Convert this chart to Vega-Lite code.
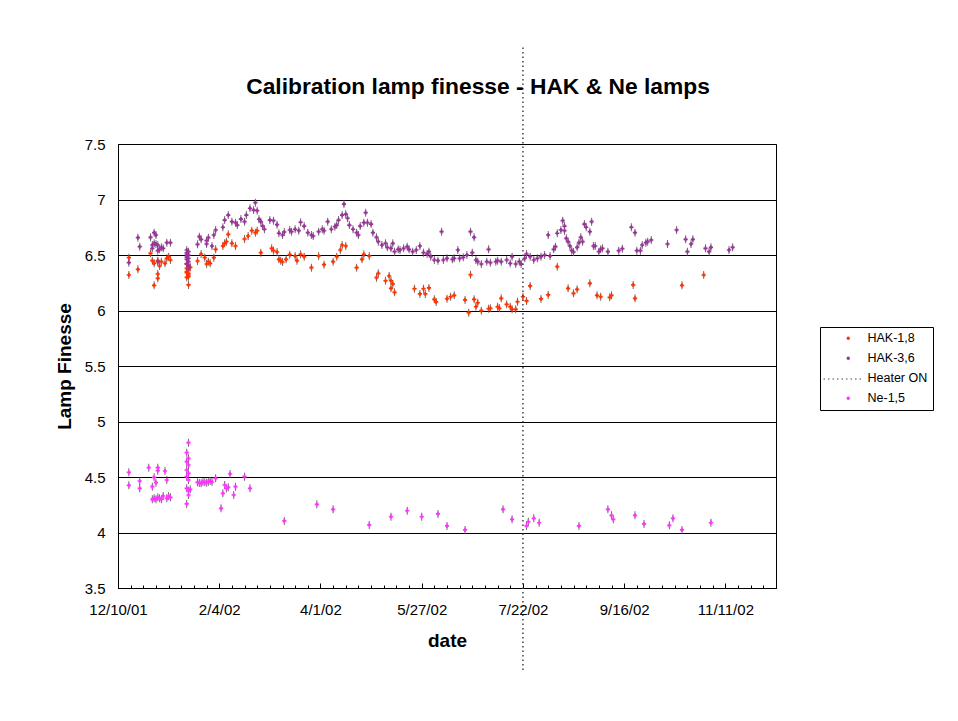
{
  "$schema": "https://vega.github.io/schema/vega-lite/v6.json",
  "autosize": "none",
  "width": 658,
  "height": 444,
  "padding": {"left": 118, "top": 144, "right": 182, "bottom": 133},
  "background": "white",
  "title": {"text": "Calibration lamp finesse - HAK & Ne lamps", "fontSize": 22.8, "fontWeight": "bold", "font": "Liberation Sans", "anchor": "middle", "dx": 31, "offset": -52, "color": "black"},
  "config": {
    "font": "Liberation Sans",
    "view": {"stroke": "black", "strokeWidth": 1},
    "axis": {"labelColor": "black", "titleColor": "black", "domainColor": "black", "tickColor": "black", "labelFontSize": 15, "titleFontSize": 19, "titleFontWeight": "bold"}
  },
  "datasets": {
    "pts": [
      {"series": "HAK-1,8", "date": "2001-12-16", "finesse": 6.476},
      {"series": "HAK-1,8", "date": "2001-12-16", "finesse": 6.320},
      {"series": "HAK-1,8", "date": "2001-12-21", "finesse": 6.371},
      {"series": "HAK-1,8", "date": "2001-12-28", "finesse": 6.515},
      {"series": "HAK-1,8", "date": "2001-12-29", "finesse": 6.449},
      {"series": "HAK-1,8", "date": "2001-12-30", "finesse": 6.425},
      {"series": "HAK-1,8", "date": "2001-12-30", "finesse": 6.227},
      {"series": "HAK-1,8", "date": "2002-01-01", "finesse": 6.449},
      {"series": "HAK-1,8", "date": "2002-01-02", "finesse": 6.401},
      {"series": "HAK-1,8", "date": "2002-01-01", "finesse": 6.329},
      {"series": "HAK-1,8", "date": "2002-01-01", "finesse": 6.290},
      {"series": "HAK-1,8", "date": "2002-01-03", "finesse": 6.440},
      {"series": "HAK-1,8", "date": "2002-01-05", "finesse": 6.425},
      {"series": "HAK-1,8", "date": "2002-01-06", "finesse": 6.470},
      {"series": "HAK-1,8", "date": "2002-01-07", "finesse": 6.485},
      {"series": "HAK-1,8", "date": "2002-01-08", "finesse": 6.455},
      {"series": "HAK-1,8", "date": "2002-01-17", "finesse": 6.380},
      {"series": "HAK-1,8", "date": "2002-01-17", "finesse": 6.350},
      {"series": "HAK-1,8", "date": "2002-01-18", "finesse": 6.320},
      {"series": "HAK-1,8", "date": "2002-01-18", "finesse": 6.410},
      {"series": "HAK-1,8", "date": "2002-01-18", "finesse": 6.365},
      {"series": "HAK-1,8", "date": "2002-01-17", "finesse": 6.299},
      {"series": "HAK-1,8", "date": "2002-01-18", "finesse": 6.230},
      {"series": "HAK-1,8", "date": "2002-01-19", "finesse": 6.389},
      {"series": "HAK-1,8", "date": "2002-01-17", "finesse": 6.340},
      {"series": "HAK-1,8", "date": "2002-01-18", "finesse": 6.335},
      {"series": "HAK-1,8", "date": "2002-01-17", "finesse": 6.420},
      {"series": "HAK-1,8", "date": "2002-01-18", "finesse": 6.305},
      {"series": "HAK-1,8", "date": "2002-01-23", "finesse": 6.446},
      {"series": "HAK-1,8", "date": "2002-01-25", "finesse": 6.509},
      {"series": "HAK-1,8", "date": "2002-01-27", "finesse": 6.476},
      {"series": "HAK-1,8", "date": "2002-01-28", "finesse": 6.419},
      {"series": "HAK-1,8", "date": "2002-01-29", "finesse": 6.440},
      {"series": "HAK-1,8", "date": "2002-01-30", "finesse": 6.425},
      {"series": "HAK-1,8", "date": "2002-02-01", "finesse": 6.476},
      {"series": "HAK-1,8", "date": "2002-02-02", "finesse": 6.551},
      {"series": "HAK-1,8", "date": "2002-02-06", "finesse": 6.581},
      {"series": "HAK-1,8", "date": "2002-02-07", "finesse": 6.605},
      {"series": "HAK-1,8", "date": "2002-02-08", "finesse": 6.620},
      {"series": "HAK-1,8", "date": "2002-02-09", "finesse": 6.686},
      {"series": "HAK-1,8", "date": "2002-02-11", "finesse": 6.605},
      {"series": "HAK-1,8", "date": "2002-02-13", "finesse": 6.581},
      {"series": "HAK-1,8", "date": "2002-02-18", "finesse": 6.644},
      {"series": "HAK-1,8", "date": "2002-02-20", "finesse": 6.671},
      {"series": "HAK-1,8", "date": "2002-02-22", "finesse": 6.719},
      {"series": "HAK-1,8", "date": "2002-02-24", "finesse": 6.701},
      {"series": "HAK-1,8", "date": "2002-02-25", "finesse": 6.719},
      {"series": "HAK-1,8", "date": "2002-02-27", "finesse": 6.521},
      {"series": "HAK-1,8", "date": "2002-03-05", "finesse": 6.560},
      {"series": "HAK-1,8", "date": "2002-03-06", "finesse": 6.539},
      {"series": "HAK-1,8", "date": "2002-03-08", "finesse": 6.527},
      {"series": "HAK-1,8", "date": "2002-03-09", "finesse": 6.461},
      {"series": "HAK-1,8", "date": "2002-03-10", "finesse": 6.449},
      {"series": "HAK-1,8", "date": "2002-03-11", "finesse": 6.437},
      {"series": "HAK-1,8", "date": "2002-03-13", "finesse": 6.461},
      {"series": "HAK-1,8", "date": "2002-03-15", "finesse": 6.503},
      {"series": "HAK-1,8", "date": "2002-03-18", "finesse": 6.491},
      {"series": "HAK-1,8", "date": "2002-03-19", "finesse": 6.449},
      {"series": "HAK-1,8", "date": "2002-03-21", "finesse": 6.506},
      {"series": "HAK-1,8", "date": "2002-03-23", "finesse": 6.485},
      {"series": "HAK-1,8", "date": "2002-03-27", "finesse": 6.386},
      {"series": "HAK-1,8", "date": "2002-03-31", "finesse": 6.491},
      {"series": "HAK-1,8", "date": "2002-04-03", "finesse": 6.413},
      {"series": "HAK-1,8", "date": "2002-04-08", "finesse": 6.440},
      {"series": "HAK-1,8", "date": "2002-04-10", "finesse": 6.485},
      {"series": "HAK-1,8", "date": "2002-04-12", "finesse": 6.545},
      {"series": "HAK-1,8", "date": "2002-04-13", "finesse": 6.590},
      {"series": "HAK-1,8", "date": "2002-04-15", "finesse": 6.581},
      {"series": "HAK-1,8", "date": "2002-04-21", "finesse": 6.386},
      {"series": "HAK-1,8", "date": "2002-04-24", "finesse": 6.461},
      {"series": "HAK-1,8", "date": "2002-04-25", "finesse": 6.506},
      {"series": "HAK-1,8", "date": "2002-04-28", "finesse": 6.491},
      {"series": "HAK-1,8", "date": "2002-05-02", "finesse": 6.296},
      {"series": "HAK-1,8", "date": "2002-05-03", "finesse": 6.335},
      {"series": "HAK-1,8", "date": "2002-05-07", "finesse": 6.268},
      {"series": "HAK-1,8", "date": "2002-05-09", "finesse": 6.311},
      {"series": "HAK-1,8", "date": "2002-05-10", "finesse": 6.268},
      {"series": "HAK-1,8", "date": "2002-05-11", "finesse": 6.239},
      {"series": "HAK-1,8", "date": "2002-05-10", "finesse": 6.200},
      {"series": "HAK-1,8", "date": "2002-05-12", "finesse": 6.164},
      {"series": "HAK-1,8", "date": "2002-05-23", "finesse": 6.196},
      {"series": "HAK-1,8", "date": "2002-05-26", "finesse": 6.149},
      {"series": "HAK-1,8", "date": "2002-05-28", "finesse": 6.196},
      {"series": "HAK-1,8", "date": "2002-05-29", "finesse": 6.149},
      {"series": "HAK-1,8", "date": "2002-05-31", "finesse": 6.203},
      {"series": "HAK-1,8", "date": "2002-06-03", "finesse": 6.101},
      {"series": "HAK-1,8", "date": "2002-06-04", "finesse": 6.077},
      {"series": "HAK-1,8", "date": "2002-06-10", "finesse": 6.106},
      {"series": "HAK-1,8", "date": "2002-06-12", "finesse": 6.124},
      {"series": "HAK-1,8", "date": "2002-06-14", "finesse": 6.137},
      {"series": "HAK-1,8", "date": "2002-06-20", "finesse": 6.095},
      {"series": "HAK-1,8", "date": "2002-06-22", "finesse": 5.980},
      {"series": "HAK-1,8", "date": "2002-06-23", "finesse": 6.322},
      {"series": "HAK-1,8", "date": "2002-06-25", "finesse": 6.101},
      {"series": "HAK-1,8", "date": "2002-06-26", "finesse": 6.034},
      {"series": "HAK-1,8", "date": "2002-06-27", "finesse": 6.070},
      {"series": "HAK-1,8", "date": "2002-06-29", "finesse": 5.998},
      {"series": "HAK-1,8", "date": "2002-07-03", "finesse": 6.016},
      {"series": "HAK-1,8", "date": "2002-07-04", "finesse": 6.020},
      {"series": "HAK-1,8", "date": "2002-07-08", "finesse": 6.034},
      {"series": "HAK-1,8", "date": "2002-07-09", "finesse": 6.020},
      {"series": "HAK-1,8", "date": "2002-07-10", "finesse": 6.110},
      {"series": "HAK-1,8", "date": "2002-07-13", "finesse": 6.056},
      {"series": "HAK-1,8", "date": "2002-07-15", "finesse": 6.034},
      {"series": "HAK-1,8", "date": "2002-07-16", "finesse": 6.011},
      {"series": "HAK-1,8", "date": "2002-07-18", "finesse": 6.011},
      {"series": "HAK-1,8", "date": "2002-07-19", "finesse": 6.079},
      {"series": "HAK-1,8", "date": "2002-07-22", "finesse": 6.124},
      {"series": "HAK-1,8", "date": "2002-07-24", "finesse": 6.086},
      {"series": "HAK-1,8", "date": "2002-07-26", "finesse": 6.221},
      {"series": "HAK-1,8", "date": "2002-08-01", "finesse": 6.104},
      {"series": "HAK-1,8", "date": "2002-08-05", "finesse": 6.140},
      {"series": "HAK-1,8", "date": "2002-08-10", "finesse": 6.395},
      {"series": "HAK-1,8", "date": "2002-08-16", "finesse": 6.200},
      {"series": "HAK-1,8", "date": "2002-08-19", "finesse": 6.155},
      {"series": "HAK-1,8", "date": "2002-08-21", "finesse": 6.191},
      {"series": "HAK-1,8", "date": "2002-08-28", "finesse": 6.245},
      {"series": "HAK-1,8", "date": "2002-09-01", "finesse": 6.137},
      {"series": "HAK-1,8", "date": "2002-09-03", "finesse": 6.124},
      {"series": "HAK-1,8", "date": "2002-09-08", "finesse": 6.119},
      {"series": "HAK-1,8", "date": "2002-09-09", "finesse": 6.137},
      {"series": "HAK-1,8", "date": "2002-09-21", "finesse": 6.230},
      {"series": "HAK-1,8", "date": "2002-09-22", "finesse": 6.110},
      {"series": "HAK-1,8", "date": "2002-10-18", "finesse": 6.227},
      {"series": "HAK-1,8", "date": "2002-10-30", "finesse": 6.320},
      {"series": "HAK-3,6", "date": "2001-12-16", "finesse": 6.431},
      {"series": "HAK-3,6", "date": "2001-12-21", "finesse": 6.656},
      {"series": "HAK-3,6", "date": "2001-12-22", "finesse": 6.575},
      {"series": "HAK-3,6", "date": "2001-12-28", "finesse": 6.659},
      {"series": "HAK-3,6", "date": "2001-12-30", "finesse": 6.701},
      {"series": "HAK-3,6", "date": "2001-12-31", "finesse": 6.680},
      {"series": "HAK-3,6", "date": "2001-12-29", "finesse": 6.590},
      {"series": "HAK-3,6", "date": "2001-12-30", "finesse": 6.605},
      {"series": "HAK-3,6", "date": "2001-12-31", "finesse": 6.599},
      {"series": "HAK-3,6", "date": "2002-01-01", "finesse": 6.590},
      {"series": "HAK-3,6", "date": "2001-12-29", "finesse": 6.560},
      {"series": "HAK-3,6", "date": "2002-01-01", "finesse": 6.539},
      {"series": "HAK-3,6", "date": "2002-01-02", "finesse": 6.551},
      {"series": "HAK-3,6", "date": "2002-01-03", "finesse": 6.569},
      {"series": "HAK-3,6", "date": "2002-01-04", "finesse": 6.560},
      {"series": "HAK-3,6", "date": "2002-01-06", "finesse": 6.611},
      {"series": "HAK-3,6", "date": "2002-01-08", "finesse": 6.611},
      {"series": "HAK-3,6", "date": "2002-01-01", "finesse": 6.440},
      {"series": "HAK-3,6", "date": "2002-01-17", "finesse": 6.545},
      {"series": "HAK-3,6", "date": "2002-01-17", "finesse": 6.520},
      {"series": "HAK-3,6", "date": "2002-01-17", "finesse": 6.500},
      {"series": "HAK-3,6", "date": "2002-01-17", "finesse": 6.480},
      {"series": "HAK-3,6", "date": "2002-01-17", "finesse": 6.460},
      {"series": "HAK-3,6", "date": "2002-01-17", "finesse": 6.420},
      {"series": "HAK-3,6", "date": "2002-01-18", "finesse": 6.530},
      {"series": "HAK-3,6", "date": "2002-01-18", "finesse": 6.500},
      {"series": "HAK-3,6", "date": "2002-01-18", "finesse": 6.470},
      {"series": "HAK-3,6", "date": "2002-01-18", "finesse": 6.440},
      {"series": "HAK-3,6", "date": "2002-01-18", "finesse": 6.400},
      {"series": "HAK-3,6", "date": "2002-01-18", "finesse": 6.380},
      {"series": "HAK-3,6", "date": "2002-01-23", "finesse": 6.596},
      {"series": "HAK-3,6", "date": "2002-01-24", "finesse": 6.665},
      {"series": "HAK-3,6", "date": "2002-01-25", "finesse": 6.641},
      {"series": "HAK-3,6", "date": "2002-01-28", "finesse": 6.629},
      {"series": "HAK-3,6", "date": "2002-01-29", "finesse": 6.656},
      {"series": "HAK-3,6", "date": "2002-01-28", "finesse": 6.599},
      {"series": "HAK-3,6", "date": "2002-01-31", "finesse": 6.581},
      {"series": "HAK-3,6", "date": "2002-02-01", "finesse": 6.680},
      {"series": "HAK-3,6", "date": "2002-02-02", "finesse": 6.725},
      {"series": "HAK-3,6", "date": "2002-02-06", "finesse": 6.750},
      {"series": "HAK-3,6", "date": "2002-02-07", "finesse": 6.815},
      {"series": "HAK-3,6", "date": "2002-02-09", "finesse": 6.860},
      {"series": "HAK-3,6", "date": "2002-02-11", "finesse": 6.800},
      {"series": "HAK-3,6", "date": "2002-02-13", "finesse": 6.791},
      {"series": "HAK-3,6", "date": "2002-02-14", "finesse": 6.770},
      {"series": "HAK-3,6", "date": "2002-02-16", "finesse": 6.824},
      {"series": "HAK-3,6", "date": "2002-02-18", "finesse": 6.800},
      {"series": "HAK-3,6", "date": "2002-02-19", "finesse": 6.860},
      {"series": "HAK-3,6", "date": "2002-02-21", "finesse": 6.921},
      {"series": "HAK-3,6", "date": "2002-02-23", "finesse": 6.905},
      {"series": "HAK-3,6", "date": "2002-02-24", "finesse": 6.971},
      {"series": "HAK-3,6", "date": "2002-02-25", "finesse": 6.899},
      {"series": "HAK-3,6", "date": "2002-02-26", "finesse": 6.822},
      {"series": "HAK-3,6", "date": "2002-02-27", "finesse": 6.800},
      {"series": "HAK-3,6", "date": "2002-02-28", "finesse": 6.761},
      {"series": "HAK-3,6", "date": "2002-03-01", "finesse": 6.732},
      {"series": "HAK-3,6", "date": "2002-03-04", "finesse": 6.815},
      {"series": "HAK-3,6", "date": "2002-03-06", "finesse": 6.809},
      {"series": "HAK-3,6", "date": "2002-03-08", "finesse": 6.773},
      {"series": "HAK-3,6", "date": "2002-03-09", "finesse": 6.696},
      {"series": "HAK-3,6", "date": "2002-03-11", "finesse": 6.680},
      {"series": "HAK-3,6", "date": "2002-03-12", "finesse": 6.707},
      {"series": "HAK-3,6", "date": "2002-03-15", "finesse": 6.725},
      {"series": "HAK-3,6", "date": "2002-03-16", "finesse": 6.710},
      {"series": "HAK-3,6", "date": "2002-03-18", "finesse": 6.732},
      {"series": "HAK-3,6", "date": "2002-03-20", "finesse": 6.719},
      {"series": "HAK-3,6", "date": "2002-03-21", "finesse": 6.795},
      {"series": "HAK-3,6", "date": "2002-03-23", "finesse": 6.761},
      {"series": "HAK-3,6", "date": "2002-03-25", "finesse": 6.701},
      {"series": "HAK-3,6", "date": "2002-03-27", "finesse": 6.680},
      {"series": "HAK-3,6", "date": "2002-03-28", "finesse": 6.671},
      {"series": "HAK-3,6", "date": "2002-03-31", "finesse": 6.710},
      {"series": "HAK-3,6", "date": "2002-04-02", "finesse": 6.732},
      {"series": "HAK-3,6", "date": "2002-04-03", "finesse": 6.719},
      {"series": "HAK-3,6", "date": "2002-04-05", "finesse": 6.800},
      {"series": "HAK-3,6", "date": "2002-04-07", "finesse": 6.732},
      {"series": "HAK-3,6", "date": "2002-04-09", "finesse": 6.755},
      {"series": "HAK-3,6", "date": "2002-04-10", "finesse": 6.770},
      {"series": "HAK-3,6", "date": "2002-04-11", "finesse": 6.815},
      {"series": "HAK-3,6", "date": "2002-04-13", "finesse": 6.860},
      {"series": "HAK-3,6", "date": "2002-04-14", "finesse": 6.959},
      {"series": "HAK-3,6", "date": "2002-04-15", "finesse": 6.869},
      {"series": "HAK-3,6", "date": "2002-04-16", "finesse": 6.831},
      {"series": "HAK-3,6", "date": "2002-04-17", "finesse": 6.770},
      {"series": "HAK-3,6", "date": "2002-04-19", "finesse": 6.732},
      {"series": "HAK-3,6", "date": "2002-04-21", "finesse": 6.701},
      {"series": "HAK-3,6", "date": "2002-04-22", "finesse": 6.680},
      {"series": "HAK-3,6", "date": "2002-04-23", "finesse": 6.761},
      {"series": "HAK-3,6", "date": "2002-04-25", "finesse": 6.791},
      {"series": "HAK-3,6", "date": "2002-04-26", "finesse": 6.881},
      {"series": "HAK-3,6", "date": "2002-04-27", "finesse": 6.791},
      {"series": "HAK-3,6", "date": "2002-04-29", "finesse": 6.779},
      {"series": "HAK-3,6", "date": "2002-04-30", "finesse": 6.701},
      {"series": "HAK-3,6", "date": "2002-05-02", "finesse": 6.659},
      {"series": "HAK-3,6", "date": "2002-05-03", "finesse": 6.620},
      {"series": "HAK-3,6", "date": "2002-05-05", "finesse": 6.590},
      {"series": "HAK-3,6", "date": "2002-05-07", "finesse": 6.605},
      {"series": "HAK-3,6", "date": "2002-05-08", "finesse": 6.569},
      {"series": "HAK-3,6", "date": "2002-05-10", "finesse": 6.560},
      {"series": "HAK-3,6", "date": "2002-05-11", "finesse": 6.605},
      {"series": "HAK-3,6", "date": "2002-05-12", "finesse": 6.530},
      {"series": "HAK-3,6", "date": "2002-05-14", "finesse": 6.551},
      {"series": "HAK-3,6", "date": "2002-05-15", "finesse": 6.545},
      {"series": "HAK-3,6", "date": "2002-05-17", "finesse": 6.560},
      {"series": "HAK-3,6", "date": "2002-05-19", "finesse": 6.575},
      {"series": "HAK-3,6", "date": "2002-05-20", "finesse": 6.551},
      {"series": "HAK-3,6", "date": "2002-05-22", "finesse": 6.530},
      {"series": "HAK-3,6", "date": "2002-05-24", "finesse": 6.545},
      {"series": "HAK-3,6", "date": "2002-05-26", "finesse": 6.581},
      {"series": "HAK-3,6", "date": "2002-05-28", "finesse": 6.521},
      {"series": "HAK-3,6", "date": "2002-05-30", "finesse": 6.509},
      {"series": "HAK-3,6", "date": "2002-05-31", "finesse": 6.530},
      {"series": "HAK-3,6", "date": "2002-06-01", "finesse": 6.485},
      {"series": "HAK-3,6", "date": "2002-06-03", "finesse": 6.455},
      {"series": "HAK-3,6", "date": "2002-06-05", "finesse": 6.449},
      {"series": "HAK-3,6", "date": "2002-06-07", "finesse": 6.710},
      {"series": "HAK-3,6", "date": "2002-06-08", "finesse": 6.455},
      {"series": "HAK-3,6", "date": "2002-06-10", "finesse": 6.470},
      {"series": "HAK-3,6", "date": "2002-06-13", "finesse": 6.461},
      {"series": "HAK-3,6", "date": "2002-06-14", "finesse": 6.470},
      {"series": "HAK-3,6", "date": "2002-06-16", "finesse": 6.545},
      {"series": "HAK-3,6", "date": "2002-06-17", "finesse": 6.470},
      {"series": "HAK-3,6", "date": "2002-06-19", "finesse": 6.479},
      {"series": "HAK-3,6", "date": "2002-06-21", "finesse": 6.500},
      {"series": "HAK-3,6", "date": "2002-06-23", "finesse": 6.710},
      {"series": "HAK-3,6", "date": "2002-06-24", "finesse": 6.521},
      {"series": "HAK-3,6", "date": "2002-06-25", "finesse": 6.659},
      {"series": "HAK-3,6", "date": "2002-06-26", "finesse": 6.455},
      {"series": "HAK-3,6", "date": "2002-06-27", "finesse": 6.440},
      {"series": "HAK-3,6", "date": "2002-06-29", "finesse": 6.419},
      {"series": "HAK-3,6", "date": "2002-07-02", "finesse": 6.440},
      {"series": "HAK-3,6", "date": "2002-07-03", "finesse": 6.551},
      {"series": "HAK-3,6", "date": "2002-07-04", "finesse": 6.431},
      {"series": "HAK-3,6", "date": "2002-07-07", "finesse": 6.440},
      {"series": "HAK-3,6", "date": "2002-07-08", "finesse": 6.449},
      {"series": "HAK-3,6", "date": "2002-07-10", "finesse": 6.440},
      {"series": "HAK-3,6", "date": "2002-07-13", "finesse": 6.455},
      {"series": "HAK-3,6", "date": "2002-07-15", "finesse": 6.425},
      {"series": "HAK-3,6", "date": "2002-07-16", "finesse": 6.485},
      {"series": "HAK-3,6", "date": "2002-07-18", "finesse": 6.419},
      {"series": "HAK-3,6", "date": "2002-07-20", "finesse": 6.440},
      {"series": "HAK-3,6", "date": "2002-07-21", "finesse": 6.419},
      {"series": "HAK-3,6", "date": "2002-07-23", "finesse": 6.470},
      {"series": "HAK-3,6", "date": "2002-07-24", "finesse": 6.509},
      {"series": "HAK-3,6", "date": "2002-07-26", "finesse": 6.485},
      {"series": "HAK-3,6", "date": "2002-07-28", "finesse": 6.455},
      {"series": "HAK-3,6", "date": "2002-07-30", "finesse": 6.470},
      {"series": "HAK-3,6", "date": "2002-08-01", "finesse": 6.485},
      {"series": "HAK-3,6", "date": "2002-08-03", "finesse": 6.500},
      {"series": "HAK-3,6", "date": "2002-08-05", "finesse": 6.680},
      {"series": "HAK-3,6", "date": "2002-08-06", "finesse": 6.491},
      {"series": "HAK-3,6", "date": "2002-08-08", "finesse": 6.551},
      {"series": "HAK-3,6", "date": "2002-08-09", "finesse": 6.575},
      {"series": "HAK-3,6", "date": "2002-08-10", "finesse": 6.696},
      {"series": "HAK-3,6", "date": "2002-08-12", "finesse": 6.725},
      {"series": "HAK-3,6", "date": "2002-08-13", "finesse": 6.809},
      {"series": "HAK-3,6", "date": "2002-08-14", "finesse": 6.761},
      {"series": "HAK-3,6", "date": "2002-08-14", "finesse": 6.719},
      {"series": "HAK-3,6", "date": "2002-08-15", "finesse": 6.650},
      {"series": "HAK-3,6", "date": "2002-08-16", "finesse": 6.620},
      {"series": "HAK-3,6", "date": "2002-08-17", "finesse": 6.581},
      {"series": "HAK-3,6", "date": "2002-08-18", "finesse": 6.539},
      {"series": "HAK-3,6", "date": "2002-08-19", "finesse": 6.527},
      {"series": "HAK-3,6", "date": "2002-08-21", "finesse": 6.569},
      {"series": "HAK-3,6", "date": "2002-08-22", "finesse": 6.611},
      {"series": "HAK-3,6", "date": "2002-08-23", "finesse": 6.659},
      {"series": "HAK-3,6", "date": "2002-08-24", "finesse": 6.620},
      {"series": "HAK-3,6", "date": "2002-08-25", "finesse": 6.779},
      {"series": "HAK-3,6", "date": "2002-08-26", "finesse": 6.750},
      {"series": "HAK-3,6", "date": "2002-08-28", "finesse": 6.710},
      {"series": "HAK-3,6", "date": "2002-08-29", "finesse": 6.800},
      {"series": "HAK-3,6", "date": "2002-08-30", "finesse": 6.581},
      {"series": "HAK-3,6", "date": "2002-08-31", "finesse": 6.581},
      {"series": "HAK-3,6", "date": "2002-09-02", "finesse": 6.530},
      {"series": "HAK-3,6", "date": "2002-09-03", "finesse": 6.551},
      {"series": "HAK-3,6", "date": "2002-09-04", "finesse": 6.560},
      {"series": "HAK-3,6", "date": "2002-09-07", "finesse": 6.530},
      {"series": "HAK-3,6", "date": "2002-09-13", "finesse": 6.539},
      {"series": "HAK-3,6", "date": "2002-09-15", "finesse": 6.557},
      {"series": "HAK-3,6", "date": "2002-09-20", "finesse": 6.750},
      {"series": "HAK-3,6", "date": "2002-09-22", "finesse": 6.701},
      {"series": "HAK-3,6", "date": "2002-09-23", "finesse": 6.539},
      {"series": "HAK-3,6", "date": "2002-09-25", "finesse": 6.539},
      {"series": "HAK-3,6", "date": "2002-09-26", "finesse": 6.590},
      {"series": "HAK-3,6", "date": "2002-09-28", "finesse": 6.611},
      {"series": "HAK-3,6", "date": "2002-09-29", "finesse": 6.620},
      {"series": "HAK-3,6", "date": "2002-10-01", "finesse": 6.635},
      {"series": "HAK-3,6", "date": "2002-10-10", "finesse": 6.599},
      {"series": "HAK-3,6", "date": "2002-10-15", "finesse": 6.725},
      {"series": "HAK-3,6", "date": "2002-10-20", "finesse": 6.641},
      {"series": "HAK-3,6", "date": "2002-10-21", "finesse": 6.530},
      {"series": "HAK-3,6", "date": "2002-10-23", "finesse": 6.599},
      {"series": "HAK-3,6", "date": "2002-10-24", "finesse": 6.641},
      {"series": "HAK-3,6", "date": "2002-10-31", "finesse": 6.560},
      {"series": "HAK-3,6", "date": "2002-11-02", "finesse": 6.530},
      {"series": "HAK-3,6", "date": "2002-11-03", "finesse": 6.569},
      {"series": "HAK-3,6", "date": "2002-11-13", "finesse": 6.545},
      {"series": "HAK-3,6", "date": "2002-11-15", "finesse": 6.569},
      {"series": "Ne-1,5", "date": "2001-12-16", "finesse": 4.542},
      {"series": "Ne-1,5", "date": "2001-12-16", "finesse": 4.425},
      {"series": "Ne-1,5", "date": "2001-12-22", "finesse": 4.464},
      {"series": "Ne-1,5", "date": "2001-12-22", "finesse": 4.398},
      {"series": "Ne-1,5", "date": "2001-12-27", "finesse": 4.584},
      {"series": "Ne-1,5", "date": "2001-12-29", "finesse": 4.413},
      {"series": "Ne-1,5", "date": "2001-12-30", "finesse": 4.497},
      {"series": "Ne-1,5", "date": "2001-12-31", "finesse": 4.449},
      {"series": "Ne-1,5", "date": "2002-01-01", "finesse": 4.584},
      {"series": "Ne-1,5", "date": "2002-01-01", "finesse": 4.557},
      {"series": "Ne-1,5", "date": "2001-12-29", "finesse": 4.299},
      {"series": "Ne-1,5", "date": "2001-12-30", "finesse": 4.308},
      {"series": "Ne-1,5", "date": "2001-12-31", "finesse": 4.299},
      {"series": "Ne-1,5", "date": "2002-01-01", "finesse": 4.317},
      {"series": "Ne-1,5", "date": "2002-01-02", "finesse": 4.308},
      {"series": "Ne-1,5", "date": "2002-01-03", "finesse": 4.299},
      {"series": "Ne-1,5", "date": "2002-01-04", "finesse": 4.329},
      {"series": "Ne-1,5", "date": "2002-01-06", "finesse": 4.308},
      {"series": "Ne-1,5", "date": "2002-01-05", "finesse": 4.554},
      {"series": "Ne-1,5", "date": "2002-01-06", "finesse": 4.473},
      {"series": "Ne-1,5", "date": "2002-01-07", "finesse": 4.329},
      {"series": "Ne-1,5", "date": "2002-01-08", "finesse": 4.317},
      {"series": "Ne-1,5", "date": "2002-01-18", "finesse": 4.809},
      {"series": "Ne-1,5", "date": "2002-01-17", "finesse": 4.719},
      {"series": "Ne-1,5", "date": "2002-01-18", "finesse": 4.668},
      {"series": "Ne-1,5", "date": "2002-01-17", "finesse": 4.638},
      {"series": "Ne-1,5", "date": "2002-01-18", "finesse": 4.608},
      {"series": "Ne-1,5", "date": "2002-01-17", "finesse": 4.563},
      {"series": "Ne-1,5", "date": "2002-01-18", "finesse": 4.533},
      {"series": "Ne-1,5", "date": "2002-01-17", "finesse": 4.503},
      {"series": "Ne-1,5", "date": "2002-01-18", "finesse": 4.473},
      {"series": "Ne-1,5", "date": "2002-01-17", "finesse": 4.398},
      {"series": "Ne-1,5", "date": "2002-01-18", "finesse": 4.377},
      {"series": "Ne-1,5", "date": "2002-01-18", "finesse": 4.338},
      {"series": "Ne-1,5", "date": "2002-01-17", "finesse": 4.257},
      {"series": "Ne-1,5", "date": "2002-01-19", "finesse": 4.389},
      {"series": "Ne-1,5", "date": "2002-01-23", "finesse": 4.452},
      {"series": "Ne-1,5", "date": "2002-01-24", "finesse": 4.447},
      {"series": "Ne-1,5", "date": "2002-01-25", "finesse": 4.443},
      {"series": "Ne-1,5", "date": "2002-01-26", "finesse": 4.455},
      {"series": "Ne-1,5", "date": "2002-01-27", "finesse": 4.452},
      {"series": "Ne-1,5", "date": "2002-01-28", "finesse": 4.449},
      {"series": "Ne-1,5", "date": "2002-01-29", "finesse": 4.458},
      {"series": "Ne-1,5", "date": "2002-01-30", "finesse": 4.464},
      {"series": "Ne-1,5", "date": "2002-01-31", "finesse": 4.455},
      {"series": "Ne-1,5", "date": "2002-02-02", "finesse": 4.488},
      {"series": "Ne-1,5", "date": "2002-02-05", "finesse": 4.218},
      {"series": "Ne-1,5", "date": "2002-02-06", "finesse": 4.353},
      {"series": "Ne-1,5", "date": "2002-02-07", "finesse": 4.428},
      {"series": "Ne-1,5", "date": "2002-02-08", "finesse": 4.398},
      {"series": "Ne-1,5", "date": "2002-02-09", "finesse": 4.407},
      {"series": "Ne-1,5", "date": "2002-02-10", "finesse": 4.527},
      {"series": "Ne-1,5", "date": "2002-02-12", "finesse": 4.338},
      {"series": "Ne-1,5", "date": "2002-02-13", "finesse": 4.413},
      {"series": "Ne-1,5", "date": "2002-02-18", "finesse": 4.503},
      {"series": "Ne-1,5", "date": "2002-02-21", "finesse": 4.398},
      {"series": "Ne-1,5", "date": "2002-03-12", "finesse": 4.104},
      {"series": "Ne-1,5", "date": "2002-03-30", "finesse": 4.254},
      {"series": "Ne-1,5", "date": "2002-04-08", "finesse": 4.209},
      {"series": "Ne-1,5", "date": "2002-04-28", "finesse": 4.068},
      {"series": "Ne-1,5", "date": "2002-05-10", "finesse": 4.142},
      {"series": "Ne-1,5", "date": "2002-05-19", "finesse": 4.196},
      {"series": "Ne-1,5", "date": "2002-05-27", "finesse": 4.142},
      {"series": "Ne-1,5", "date": "2002-06-05", "finesse": 4.167},
      {"series": "Ne-1,5", "date": "2002-06-10", "finesse": 4.059},
      {"series": "Ne-1,5", "date": "2002-06-20", "finesse": 4.023},
      {"series": "Ne-1,5", "date": "2002-07-11", "finesse": 4.209},
      {"series": "Ne-1,5", "date": "2002-07-16", "finesse": 4.119},
      {"series": "Ne-1,5", "date": "2002-07-24", "finesse": 4.059},
      {"series": "Ne-1,5", "date": "2002-07-25", "finesse": 4.097},
      {"series": "Ne-1,5", "date": "2002-07-28", "finesse": 4.128},
      {"series": "Ne-1,5", "date": "2002-07-31", "finesse": 4.088},
      {"series": "Ne-1,5", "date": "2002-08-22", "finesse": 4.059},
      {"series": "Ne-1,5", "date": "2002-09-07", "finesse": 4.209},
      {"series": "Ne-1,5", "date": "2002-09-09", "finesse": 4.155},
      {"series": "Ne-1,5", "date": "2002-09-10", "finesse": 4.119},
      {"series": "Ne-1,5", "date": "2002-09-22", "finesse": 4.155},
      {"series": "Ne-1,5", "date": "2002-09-27", "finesse": 4.077},
      {"series": "Ne-1,5", "date": "2002-10-11", "finesse": 4.065},
      {"series": "Ne-1,5", "date": "2002-10-13", "finesse": 4.128},
      {"series": "Ne-1,5", "date": "2002-10-18", "finesse": 4.023},
      {"series": "Ne-1,5", "date": "2002-11-03", "finesse": 4.088}
    ],
    "heater": [
      {"series": "Heater ON", "date": "2002-07-22", "top": 8.37, "bottom": 2.74}
    ]
  },
  "encoding": {
    "x": {
      "field": "date", "type": "temporal",
      "scale": {"type": "utc", "domain": [1007942400000, 1039392000000], "nice": false},
      "axis": {
        "title": "date", "titlePadding": 12, "grid": false,
        "values": [1007942400000, 1008547200000, 1009152000000, 1009756800000, 1010361600000, 1010966400000, 1011571200000, 1012176000000, 1012780800000, 1013385600000, 1013990400000, 1014595200000, 1015200000000, 1015804800000, 1016409600000, 1017014400000, 1017619200000, 1018224000000, 1018828800000, 1019433600000, 1020038400000, 1020643200000, 1021248000000, 1021852800000, 1022457600000, 1023062400000, 1023667200000, 1024272000000, 1024876800000, 1025481600000, 1026086400000, 1026691200000, 1027296000000, 1027900800000, 1028505600000, 1029110400000, 1029715200000, 1030320000000, 1030924800000, 1031529600000, 1032134400000, 1032739200000, 1033344000000, 1033948800000, 1034553600000, 1035158400000, 1035763200000, 1036368000000, 1036972800000, 1037577600000, 1038182400000, 1038787200000, 1039392000000],
        "labelExpr": "(datum.value - 1007942400000) % 4838400000 === 0 ? utcFormat(datum.value, '%-m/%-d/%y') : ''",
        "labelOverlap": false, "labelBound": false, "labelFlush": false,
        "tickSize": {"condition": {"test": "(datum.value - 1007942400000) % 4838400000 === 0", "value": -5}, "value": -3},
        "labelPadding": 19
      }
    }
  },
  "layer": [
    {
      "data": {"name": "pts"},
      "mark": {"type": "tick", "orient": "vertical", "size": 8, "thickness": 1, "color": "#555555", "opacity": 0.85},
      "encoding": {
        "y": {"field": "finesse", "type": "quantitative", "scale": {"domain": [3.5, 7.5], "nice": false, "zero": false},
              "axis": {"title": "Lamp Finesse", "values": [3.5, 4, 4.5, 5, 5.5, 6, 6.5, 7, 7.5], "format": ".1~f", "grid": true, "gridColor": "black", "gridWidth": 1, "gridOpacity": 1, "tickSize": 0, "labelPadding": 13, "titlePadding": 10}}
      }
    },
    {
      "data": {"name": "pts"},
      "mark": {"type": "point", "shape": "cross", "filled": true, "size": 18, "opacity": 1},
      "encoding": {
        "y": {"field": "finesse", "type": "quantitative", "scale": {"domain": [3.5, 7.5], "nice": false, "zero": false},
              "axis": {"title": "Lamp Finesse", "values": [3.5, 4, 4.5, 5, 5.5, 6, 6.5, 7, 7.5], "format": ".1~f", "grid": true, "gridColor": "black", "gridWidth": 1, "gridOpacity": 1, "tickSize": 0, "labelPadding": 13, "titlePadding": 10}},
        "color": {
          "field": "series", "type": "nominal",
          "scale": {"domain": ["HAK-1,8", "HAK-3,6", "Heater ON", "Ne-1,5"], "range": ["#FF3300", "#993399", "transparent", "#FF33FF"]},
          "legend": {
            "title": null, "orient": "none", "legendX": 702, "legendY": 183,
            "strokeColor": "black", "padding": 5,
            "labelFontSize": 12.5, "labelColor": "black", "labelFont": "Liberation Sans",
            "symbolType": "circle", "symbolSize": 12, "symbolOffset": 17,
            "rowPadding": 7, "labelOffset": 13
          }
        }
      }
    },
    {
      "data": {"name": "heater"},
      "mark": {"type": "rule", "strokeWidth": 1.5, "color": "#444444"},
      "encoding": {
        "y": {"field": "top", "type": "quantitative", "scale": {"domain": [3.5, 7.5], "nice": false, "zero": false},
              "axis": {"title": "Lamp Finesse", "values": [3.5, 4, 4.5, 5, 5.5, 6, 6.5, 7, 7.5], "format": ".1~f", "grid": true, "gridColor": "black", "gridWidth": 1, "gridOpacity": 1, "tickSize": 0, "labelPadding": 13, "titlePadding": 10}},
        "y2": {"field": "bottom"},
        "strokeDash": {
          "field": "series", "type": "nominal",
          "scale": {"domain": ["Heater ON"], "range": [[1.5, 3]]},
          "legend": {
            "title": null, "orient": "none", "legendX": 705, "legendY": 215,
            "padding": 0, "symbolType": "stroke", "symbolSize": 1521,
            "symbolStrokeColor": "#663366", "symbolStrokeWidth": 1,
            "labelExpr": "''", "labelFontSize": 12.5, "labelOffset": 0
          }
        }
      }
    }
  ]
}
